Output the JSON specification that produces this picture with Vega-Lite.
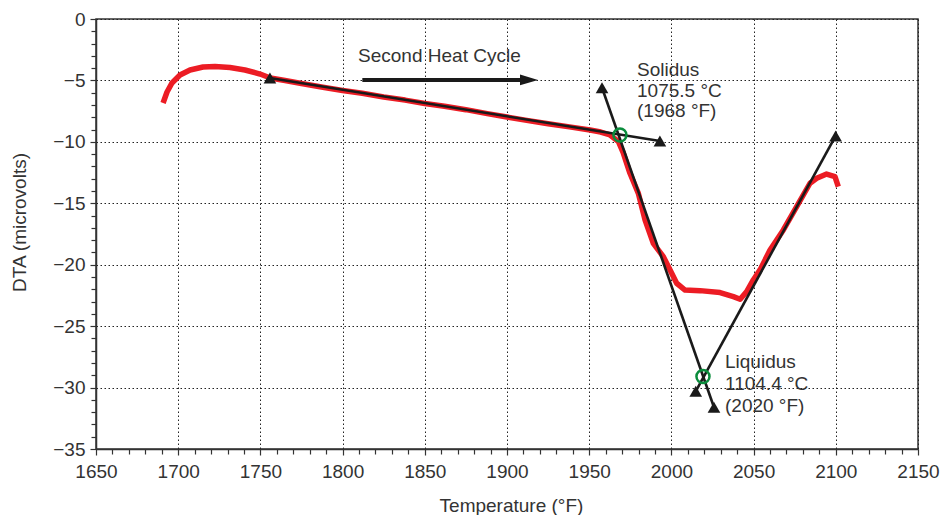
{
  "$schema": "https://vega.github.io/schema/vega-lite/v6.json",
  "width": 822,
  "height": 430,
  "autosize": {"type": "none"},
  "padding": {"left": 96, "top": 19, "right": 26, "bottom": 66},
  "background": "white",
  "view": {"stroke": "#333", "strokeWidth": 1.5},
  "config": {
    "font": "Liberation Sans",
    "axis": {
      "labelFont": "Liberation Sans",
      "labelFontSize": 19,
      "labelColor": "#333",
      "titleFont": "Liberation Sans",
      "titleFontSize": 19,
      "titleFontWeight": "normal",
      "titleColor": "#333",
      "domainColor": "#333",
      "domainWidth": 1.5,
      "tickColor": "#333",
      "tickWidth": 1.2,
      "gridColor": "#222",
      "gridWidth": 1,
      "gridDash": [1.5, 2.5],
      "labelOverlap": false,
      "labelFlush": false
    }
  },
  "datasets": {
    "dta": [
      {"T": 1690.8, "v": -6.84}, {"T": 1693.2, "v": -5.94}, {"T": 1696.2, "v": -5.21}, {"T": 1701.1, "v": -4.56},
      {"T": 1707.2, "v": -4.15}, {"T": 1715.1, "v": -3.91}, {"T": 1722.4, "v": -3.87}, {"T": 1731.5, "v": -3.95},
      {"T": 1740.6, "v": -4.15}, {"T": 1749.8, "v": -4.48}, {"T": 1756, "v": -4.8}, {"T": 1765, "v": -5.0},
      {"T": 1775, "v": -5.25}, {"T": 1788, "v": -5.55}, {"T": 1800, "v": -5.82}, {"T": 1812, "v": -6.05},
      {"T": 1825, "v": -6.35}, {"T": 1838, "v": -6.6}, {"T": 1850, "v": -6.88}, {"T": 1862, "v": -7.1},
      {"T": 1875, "v": -7.38}, {"T": 1888, "v": -7.7}, {"T": 1900, "v": -7.98}, {"T": 1912, "v": -8.25},
      {"T": 1925, "v": -8.52}, {"T": 1938, "v": -8.78}, {"T": 1950.5, "v": -9.03}, {"T": 1957, "v": -9.2},
      {"T": 1962.7, "v": -9.44}, {"T": 1967.8, "v": -9.98}, {"T": 1970.8, "v": -10.93}, {"T": 1974.8, "v": -12.56},
      {"T": 1979.9, "v": -14.19}, {"T": 1984, "v": -16.36}, {"T": 1989, "v": -18.26}, {"T": 1995.1, "v": -19.35},
      {"T": 1999.2, "v": -20.43}, {"T": 2003.2, "v": -21.51}, {"T": 2008.3, "v": -22.06}, {"T": 2017.4, "v": -22.11},
      {"T": 2029.6, "v": -22.27}, {"T": 2037.7, "v": -22.6}, {"T": 2041.8, "v": -22.81}, {"T": 2045.8, "v": -22.19},
      {"T": 2049.8, "v": -21.24}, {"T": 2054, "v": -20.4}, {"T": 2060, "v": -18.8}, {"T": 2068.1, "v": -17.17},
      {"T": 2076.2, "v": -15.28}, {"T": 2084.3, "v": -13.37}, {"T": 2088.4, "v": -12.97}, {"T": 2094.4, "v": -12.62},
      {"T": 2099.5, "v": -12.83}, {"T": 2101.5, "v": -13.65}
    ],
    "fits": [
      {"s": "baseline", "T": 1755.8, "v": -4.8}, {"s": "baseline", "T": 1993, "v": -9.93},
      {"s": "drop", "T": 1957.8, "v": -5.6}, {"s": "drop", "T": 2025.9, "v": -31.6},
      {"s": "rise", "T": 2014.8, "v": -30.3}, {"s": "rise", "T": 2099.9, "v": -9.52}
    ],
    "points": [
      {"name": "Solidus", "T": 1968.7, "v": -9.45},
      {"name": "Liquidus", "T": 2019.2, "v": -29.1}
    ],
    "arrow": [
      {"T": 1812, "v": -4.96}, {"T": 1910, "v": -4.96}
    ],
    "arrowhead": [
      {"T": 1913.4, "v": -4.96}
    ],
    "labels": [
      {"T": 1809.4, "v": -3.47, "text": "Second Heat Cycle"},
      {"T": 1979.1, "v": -4.64, "text": "Solidus"},
      {"T": 1979.1, "v": -6.32, "text": "1075.5 °C"},
      {"T": 1979.1, "v": -7.98, "text": "(1968 °F)"},
      {"T": 2032.6, "v": -28.43, "text": "Liquidus"},
      {"T": 2032.6, "v": -30.2, "text": "1104.4 °C"},
      {"T": 2032.6, "v": -31.96, "text": "(2020 °F)"}
    ]
  },
  "encoding": {
    "x": {
      "field": "T", "type": "quantitative",
      "scale": {"domain": [1650, 2150], "nice": false, "zero": false},
      "axis": {
        "title": "Temperature (°F)",
        "titleX": 415, "titleY": 62, "titleBaseline": "alphabetic", "titleAnchor": null,
        "values": [1650,1660,1670,1680,1690,1700,1710,1720,1730,1740,1750,1760,1770,1780,1790,1800,1810,1820,1830,1840,1850,1860,1870,1880,1890,1900,1910,1920,1930,1940,1950,1960,1970,1980,1990,2000,2010,2020,2030,2040,2050,2060,2070,2080,2090,2100,2110,2120,2130,2140,2150],
        "labelExpr": "datum.value % 50 === 0 ? datum.label : ''",
        "format": "d",
        "labelPadding": 7,
        "gridOpacity": {"condition": {"test": "datum.value % 50 === 0", "value": 1}, "value": 0},
        "tickSize": {"condition": {"test": "datum.value % 50 === 0", "value": 6}, "value": 5}
      }
    },
    "y": {
      "field": "v", "type": "quantitative",
      "scale": {"domain": [-35, 0], "nice": false, "zero": false},
      "axis": {
        "title": "DTA (microvolts)",
        "titleX": -71, "titleY": 203, "titleAngle": -90, "titleBaseline": "alphabetic", "titleAlign": "center", "titleAnchor": null,
        "values": [-35,-34,-33,-32,-31,-30,-29,-28,-27,-26,-25,-24,-23,-22,-21,-20,-19,-18,-17,-16,-15,-14,-13,-12,-11,-10,-9,-8,-7,-6,-5,-4,-3,-2,-1,0],
        "labelExpr": "datum.value % 5 === 0 ? datum.label : ''",
        "labelPadding": 5,
        "gridOpacity": {"condition": {"test": "datum.value % 5 === 0", "value": 1}, "value": 0},
        "tickSize": {"condition": {"test": "datum.value % 5 === 0", "value": 6}, "value": 5}
      }
    }
  },
  "layer": [
    {
      "data": {"name": "dta"},
      "mark": {"type": "line", "color": "#ec1c24", "strokeWidth": 5.5, "strokeCap": "butt", "strokeJoin": "round"},
      "encoding": {"order": {"field": "T", "type": "quantitative"}}
    },
    {
      "data": {"name": "fits"},
      "mark": {"type": "line", "color": "#1a1a1a", "strokeWidth": 2.6},
      "encoding": {"detail": {"field": "s", "type": "nominal"}}
    },
    {
      "data": {"name": "fits"},
      "mark": {"type": "point", "shape": "triangle-up", "filled": true, "color": "#1a1a1a", "size": 160, "opacity": 1}
    },
    {
      "data": {"name": "points"},
      "mark": {"type": "point", "shape": "circle", "filled": false, "color": "#0a8c3c", "strokeWidth": 2.5, "size": 170, "opacity": 1}
    },
    {
      "data": {"name": "arrow"},
      "mark": {"type": "line", "color": "#1a1a1a", "strokeWidth": 4},
      "encoding": {}
    },
    {
      "data": {"name": "arrowhead"},
      "mark": {"type": "point", "shape": "M -1 -0.6 L 1 0 L -1 0.6 Z", "filled": true, "color": "#1a1a1a", "size": 324, "opacity": 1}
    },
    {
      "data": {"name": "labels"},
      "mark": {"type": "text", "align": "left", "baseline": "alphabetic", "fontSize": 19, "color": "#333", "font": "Liberation Sans"},
      "encoding": {"text": {"field": "text", "type": "nominal"}}
    }
  ]
}
